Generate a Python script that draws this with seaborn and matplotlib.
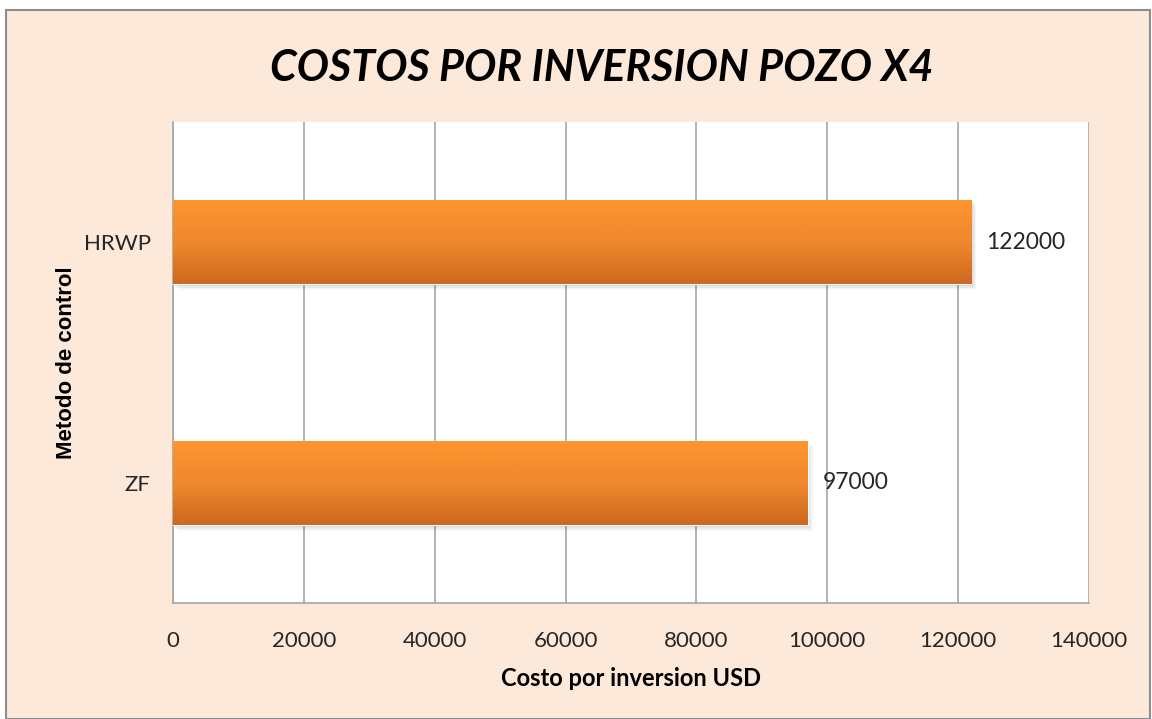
import numpy as np
import matplotlib.pyplot as plt
import seaborn as sns
import pandas as pd
from matplotlib.patches import Rectangle
from matplotlib.colors import LinearSegmentedColormap

# Chart data
metodos = ["HRWP", "ZF"]
costos = [122000, 97000]
x_ticks = [0, 20000, 40000, 60000, 80000, 100000, 120000, 140000]

df = pd.DataFrame({"metodo": metodos, "costo": costos})

sns.set_theme(style="white")
plt.rcParams["font.family"] = ["Lato", "DejaVu Sans"]

fig = plt.figure(figsize=(11.52, 7.19), dpi=100, facecolor="white")

# Peach chart area with gray frame
fig.patches.append(Rectangle((6 / 1152, 0), 1144 / 1152, 709 / 719,
                             transform=fig.transFigure, facecolor="#FDE9DA",
                             edgecolor="#8C8C8C", linewidth=1.5, zorder=-5))

ax = fig.add_axes([173 / 1152, 1 - 603 / 719, 916 / 1152, 481 / 719])
ax.set_zorder(1)
ax.set_facecolor("white")

sns.barplot(data=df, x="costo", y="metodo", orient="h", width=0.35,
            color="#F08A2E", ax=ax, zorder=3)

ax.set_xlim(0, 140000)
ax.set_xticks(x_ticks)
ax.set_xticklabels([str(t) for t in x_ticks])
ax.grid(axis="x", color="#A6A6A6", linewidth=1.2, zorder=0)
ax.grid(axis="y", visible=False)

for side in ["top", "right"]:
    ax.spines[side].set_visible(False)
for side in ["left", "bottom"]:
    ax.spines[side].set_color("#A6A6A6")
    ax.spines[side].set_linewidth(1.2)

ax.tick_params(axis="x", length=0, pad=20, labelsize=16, labelcolor="#262626")
ax.tick_params(axis="y", length=0, pad=16, labelsize=16, labelcolor="#262626")

# gradient fill + soft shadow on each bar
cmap = LinearSegmentedColormap.from_list("orng", ["#FF952E", "#F0892E", "#CE681F"])
grad = np.linspace(0, 1, 256).reshape(-1, 1)
for bar in list(ax.patches):
    x0, y0 = bar.get_x(), bar.get_y()
    w, h = bar.get_width(), bar.get_height()
    for k, a in enumerate([0.09, 0.06, 0.03]):
        sh = Rectangle((x0 + 250 * (k + 1), y0 + 0.008 * (k + 1)), w, h,
                       facecolor="black", alpha=a, edgecolor="none", zorder=2)
        ax.add_patch(sh)
    im = ax.imshow(grad, cmap=cmap, aspect="auto",
                   extent=[x0, x0 + w, y0 + h, y0], zorder=4)
    im.set_clip_path(bar)
    ax.text(x0 + w + 2300, y0 + h / 2, f"{int(w)}", va="center", ha="left",
            fontsize=16.5, color="#262626", zorder=5)

ax.set_ylim(1.5, -0.5)
ax.set_xlim(0, 140000)

ax.set_xlabel("Costo por inversion USD", fontsize=17, fontweight="bold",
              color="black", labelpad=12)
ax.set_ylabel("Metodo de control", fontsize=16, fontweight="bold",
              color="black", labelpad=5, family=["Liberation Sans", "DejaVu Sans"])

fig.text(602 / 1152, 1 - 68 / 719, "COSTOS POR INVERSION POZO X4", ha="center",
         va="center", fontsize=31, fontweight="bold", fontstyle="italic",
         color="black")

fig.savefig("out.png", dpi=100, facecolor=fig.get_facecolor())
